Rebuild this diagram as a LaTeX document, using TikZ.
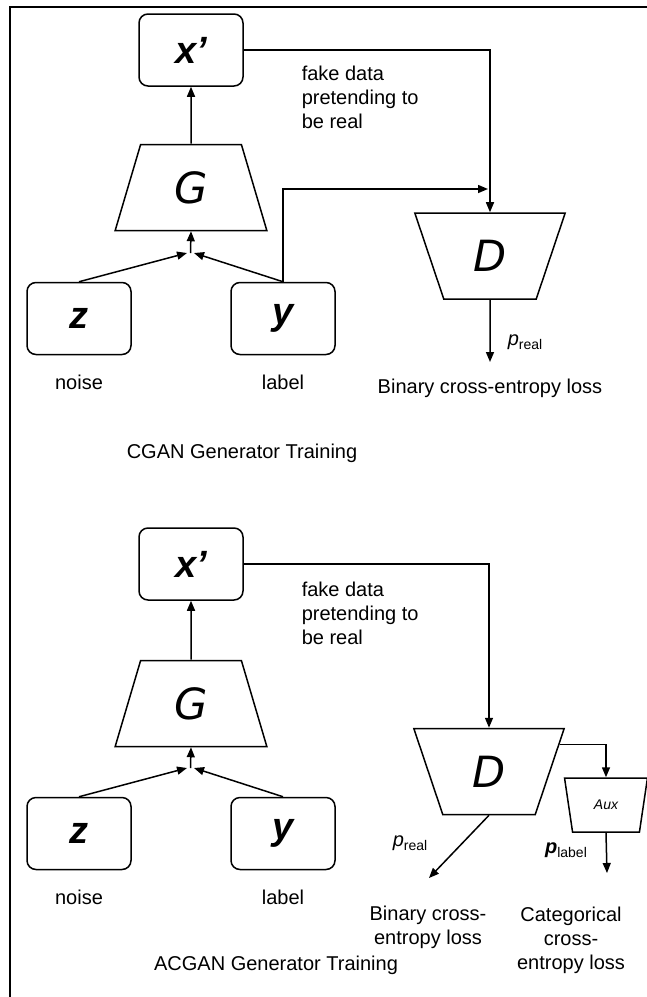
\documentclass[tikz,border=0pt]{standalone}
\usepackage{fontspec}
\setmainfont{Liberation Sans}
\newfontfamily\gdfont{DejaVu Sans}
\usetikzlibrary{shapes.geometric,arrows.meta}

\begin{document}
\begin{tikzpicture}[
    x=1pt, y=-1pt,
    font=\fontsize{20}{24}\selectfont,
    line width=1.5pt,
    >={Triangle[length=10pt,width=8pt]},
    var/.style={draw, rounded corners=9pt, minimum width=104pt, minimum height=72pt,
        inner sep=0pt, font=\fontsize{38}{38}\selectfont\bfseries\itshape},
    net/.style={draw, trapezium, trapezium stretches=true, inner sep=0pt,
        font=\fontsize{43}{43}\selectfont\gdfont\itshape},
    gen/.style={net, minimum width=152pt, minimum height=86pt,
        trapezium left angle=75.5, trapezium right angle=75.5},
    dis/.style={net, minimum width=151pt, minimum height=86pt,
        trapezium left angle=108.3, trapezium right angle=108.3},
    txt/.style={align=center, inner sep=0pt}
]

    \useasboundingbox (0,0) rectangle (647,997);

    % Frame
    \draw[line width=2pt] (647,7) -- (10,7) -- (10,997);

    % ---------------- CGAN ----------------
    \node[var] (xc) at (191,50) {x’};
    \node[gen] (gc) at (191,187.5) {G};
    \node[var] (zc) at (79,318.5) {z};
    \node[var] (yc) at (283,318.5) {y};
    \node[dis] (dc) at (490,256) {D};

    \coordinate (jcL) at (187,253);
    \coordinate (jcR) at (194,253);
    \coordinate (jc)  at (190.5,253);
    \coordinate (mc)  at (488,189);
    \coordinate (pc)  at (490,362);

    % Generator inputs
    \draw[->] (zc.north) -- (jcL);
    \draw[->] (yc.north) -- (jcR);
    \draw[->] (jc) -- (gc.south);
    \draw[->] (gc.north) -- (xc.south);

    % Into the discriminator
    \draw[->] (xc.east) -| (dc.north);
    \draw[->] (yc.north) |- (mc);
    \draw[->] (dc.south) -- (pc);

    % Texts
    \node[anchor=west, align=left, inner sep=0pt] (fc) at (301,97)
        {fake data\\pretending to\\be real};
    \node[txt] (nc) at (79,382) {noise};
    \node[txt] (lc) at (283,382) {label};
    \node[anchor=west, inner sep=0pt] (prc) at (507,342)
        {\textit{p}\raisebox{-4pt}{\fontsize{14}{14}\selectfont real}};
    \node[txt] (bc) at (490,388) {Binary cross-entropy loss};
    \node[txt] (tc) at (242,453) {CGAN Generator Training};

    % ---------------- ACGAN ----------------
    \node[var] (xa) at (191,564) {x’};
    \node[gen] (ga) at (191,703.5) {G};
    \node[var] (za) at (79,833.5) {z};
    \node[var] (ya) at (283,833.5) {y};
    \node[dis] (da) at (489,771.5) {D};
    \node[net, minimum width=83pt, minimum height=54pt,
        trapezium left angle=106.5, trapezium right angle=106.5,
        font=\fontsize{14}{14}\selectfont\itshape] (aux) at (606,805) {Aux};

    \coordinate (jaL) at (187,768);
    \coordinate (jaR) at (194,768);
    \coordinate (ja)  at (190.5,768);
    \coordinate (pa)  at (429,878);
    \coordinate (qa)  at (607,873);

    % Generator inputs
    \draw[->] (za.north) -- (jaL);
    \draw[->] (ya.north) -- (jaR);
    \draw[->] (ja) -- (ga.south);
    \draw[->] (ga.north) -- (xa.south);

    % Discriminator and auxiliary head
    \draw[->] (xa.east) -| (da.north);
    \draw[->] (da.21) -| (aux.north);
    \draw[->] (da.south) -- (pa);
    \draw[->] (aux.south) -- (qa);

    % Texts
    \node[anchor=west, align=left, inner sep=0pt] (fa) at (301,613)
        {fake data\\pretending to\\be real};
    \node[txt] (na) at (79,897) {noise};
    \node[txt] (la) at (283,897) {label};
    \node[txt] (pra) at (410,843)
        {\textit{p}\raisebox{-4pt}{\fontsize{14}{14}\selectfont real}};
    \node[txt] (pla) at (566,850)
        {\textbf{\textit{p}}\raisebox{-4pt}{\fontsize{14}{14}\selectfont label}};
    \node[txt] (ba) at (428,927) {Binary cross-\\entropy loss};
    \node[txt] (ca) at (571,940) {Categorical\\cross-\\entropy loss};
    \node[txt] (ta) at (276,965) {ACGAN Generator Training};

\end{tikzpicture}
\end{document}
